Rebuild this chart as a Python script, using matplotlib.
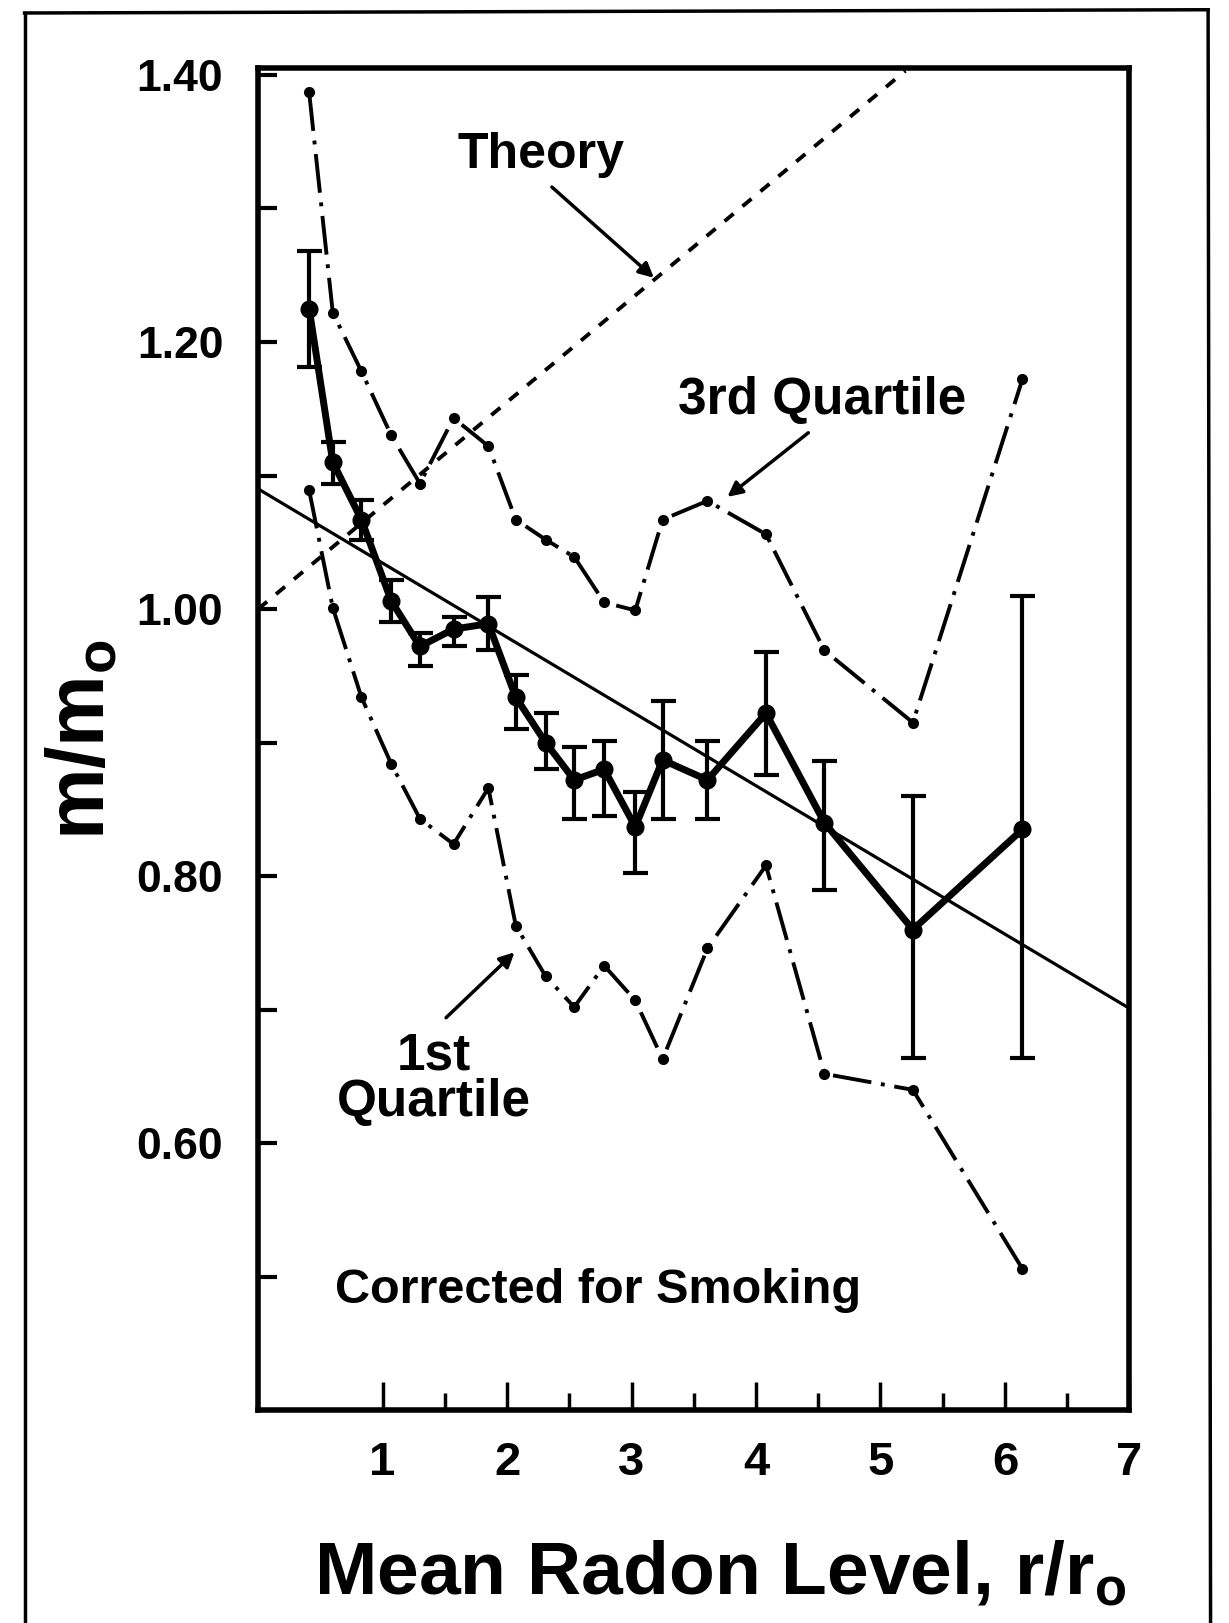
import matplotlib.pyplot as plt
from matplotlib.lines import Line2D
from matplotlib.ticker import FixedLocator
import numpy as np

plt.rcParams['font.family'] = ['Liberation Sans', 'DejaVu Sans']
plt.rcParams['mathtext.fontset'] = 'custom'
plt.rcParams['mathtext.rm'] = 'Liberation Sans:bold'
plt.rcParams['mathtext.default'] = 'rm'

# mean radon level (r/r0) of the county groups
radon = [0.41, 0.60, 0.83, 1.07, 1.30, 1.57, 1.85, 2.07, 2.31, 2.54,
         2.78, 3.03, 3.25, 3.61, 4.08, 4.55, 5.26, 6.14]
# lung cancer mortality m/m0, corrected for smoking
mortality = [1.225, 1.110, 1.067, 1.006, 0.972, 0.985, 0.989, 0.934, 0.900, 0.872,
             0.880, 0.837, 0.887, 0.872, 0.922, 0.840, 0.760, 0.835]
err_high = [1.268, 1.125, 1.082, 1.022, 0.982, 0.994, 1.009, 0.951, 0.922, 0.897,
            0.901, 0.863, 0.931, 0.901, 0.968, 0.886, 0.860, 1.010]
err_low = [1.181, 1.094, 1.052, 0.990, 0.957, 0.972, 0.969, 0.910, 0.880, 0.843,
           0.845, 0.802, 0.843, 0.843, 0.876, 0.790, 0.664, 0.664]
q3 = [1.387, 1.222, 1.178, 1.130, 1.094, 1.143, 1.122, 1.067, 1.052, 1.039,
      1.005, 0.999, 1.067, 1.081, 1.056, 0.969, 0.915, 1.172]
q1 = [1.089, 1.001, 0.934, 0.884, 0.843, 0.824, 0.866, 0.763, 0.725, 0.702,
      0.733, 0.707, 0.663, 0.746, 0.808, 0.652, 0.640, 0.506]
fit_x = [0.0, 7.0]
fit_y = [1.090, 0.701]
theory_x = [0.0, 5.2]
theory_y = [1.0, 1.403]

ytick_vals = [0.5, 0.6, 0.7, 0.8, 0.9, 1.0, 1.1, 1.2, 1.3, 1.4]
ytick_labels = ['', '0.60', '', '0.80', '', '1.00', '', '1.20', '', '1.40']
xtick_vals = [1, 2, 3, 4, 5, 6, 7]
xtick_minor = [1.5, 2.5, 3.5, 4.5, 5.5, 6.5]

fig = plt.figure(figsize=(12.29, 16.23), dpi=100)
ax = fig.add_axes([0.210, 0.131, 0.709, 0.827])

mort = np.array(mortality)
yerr = [mort - np.array(err_low), np.array(err_high) - mort]

ax.plot(theory_x, theory_y, color='black', lw=2.8, ls=(0, (3, 3)))
ax.plot(fit_x, fit_y, color='black', lw=2.3)
ax.plot(radon, q3, color='black', lw=2.8, ls=(0, (10, 2.5, 1, 2.5)),
        marker='o', ms=7)
ax.plot(radon, q1, color='black', lw=2.8, ls=(0, (10, 2.5, 1, 2.5)),
        marker='o', ms=7)
ax.errorbar(radon, mortality, yerr=yerr, fmt='-o', color='black', lw=5, ms=12,
            elinewidth=3, capsize=9, capthick=3)

ax.set_xlim(0, 7)
ax.set_ylim(0.40, 1.405)

ax.yaxis.set_major_locator(FixedLocator(ytick_vals))
ax.set_yticklabels(ytick_labels)
ax.xaxis.set_major_locator(FixedLocator(xtick_vals))
ax.xaxis.set_minor_locator(FixedLocator(xtick_minor))
ax.set_xticklabels([str(v) for v in xtick_vals])

for lbl in ax.get_yticklabels():
    lbl.set_fontsize(32)
    lbl.set_fontweight('bold')
for lbl in ax.get_xticklabels():
    lbl.set_fontsize(34)
    lbl.set_fontweight('bold')

ax.tick_params(axis='y', direction='in', length=14, width=3, pad=25, left=True)
ax.tick_params(axis='x', which='major', direction='in', length=20, width=2.5, pad=22)
ax.tick_params(axis='x', which='minor', direction='in', length=12, width=2.5)
for side in ax.spines.values():
    side.set_linewidth(4)

ax.set_ylabel('m/m$_o$', fontsize=58, fontweight='bold', va='center')
ax.yaxis.set_label_coords(-0.20, 0.50)
ax.set_xlabel('Mean Radon Level, r/r$_o$', fontsize=54, fontweight='bold', va='center')
ax.xaxis.set_label_coords(0.53, -0.122)

arrow = dict(arrowstyle='-|>', color='black', lw=2.5, mutation_scale=22,
             shrinkA=0, shrinkB=0)
ax.text(2.27, 1.34, 'Theory', fontsize=36, fontweight='bold', ha='center', va='center')
ax.annotate('', xy=(3.18, 1.248), xytext=(2.36, 1.316), arrowprops=arrow)
ax.text(4.53, 1.156, '3rd Quartile', fontsize=37, fontweight='bold', ha='center', va='center')
ax.annotate('', xy=(3.77, 1.084), xytext=(4.42, 1.132), arrowprops=arrow)
ax.text(1.41, 0.648, '1st\nQuartile', fontsize=37, fontweight='bold', ha='center',
        va='center', linespacing=0.95)
ax.annotate('', xy=(2.06, 0.743), xytext=(1.51, 0.694), arrowprops=arrow)
ax.text(0.62, 0.49, 'Corrected for Smoking', fontsize=35, fontweight='bold',
        ha='left', va='center')

# outer frame of the scanned page (no bottom edge)
fig.add_artist(Line2D([0.020, 0.020], [0.0, 0.992], color='black', lw=2.5,
                      transform=fig.transFigure))
fig.add_artist(Line2D([0.020, 0.983], [0.992, 0.994], color='black', lw=2.5,
                      transform=fig.transFigure))
fig.add_artist(Line2D([0.983, 0.985], [0.994, 0.0], color='black', lw=2.5,
                      transform=fig.transFigure))

fig.savefig('out.png', dpi=100)
